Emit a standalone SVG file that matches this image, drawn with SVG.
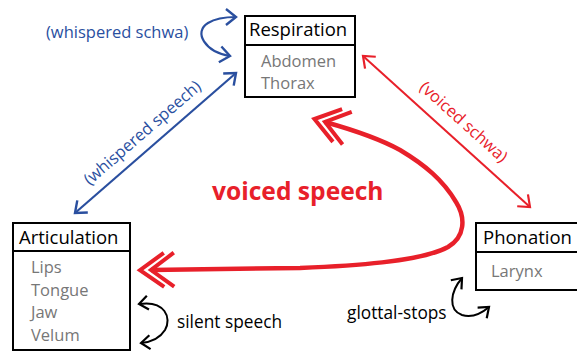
<svg xmlns="http://www.w3.org/2000/svg" width="577" height="352" viewBox="0 0 577 352">
<style>
.box{fill:#fff;stroke:#000;stroke-width:2}
.title{font-family:"Open Sans","Liberation Sans",sans-serif;font-size:18.5px;fill:#000}
.item{font-family:"Open Sans","Liberation Sans",sans-serif;font-size:16.5px;fill:#777}
.lbl{font-family:"Open Sans","Liberation Sans",sans-serif;font-size:17.3px;fill:#000}
.blue{fill:none;stroke:#2a4f9f;stroke-width:2.2}
.bluet{font-family:"Open Sans","Liberation Sans",sans-serif;font-size:16.5px;fill:#2a4f9f}
.red{fill:none;stroke:#e8202a;stroke-width:2}
.redt{font-family:"Open Sans","Liberation Sans",sans-serif;font-size:16.5px;fill:#e8202a}
.redbig{fill:none;stroke:#e8202a;stroke-width:4.5}
.black{fill:none;stroke:#000;stroke-width:2}
</style>
<defs>
<marker id="hb" markerUnits="userSpaceOnUse" orient="auto-start-reverse" markerWidth="20" markerHeight="20" overflow="visible">
<path d="M -10 -8 L 0 0 L -10 8" fill="none" stroke="#2a4f9f" stroke-width="2.4"/>
</marker>
<marker id="hr" markerUnits="userSpaceOnUse" orient="auto-start-reverse" markerWidth="20" markerHeight="20" overflow="visible">
<path d="M -10 -8 L 0 0 L -10 8" fill="none" stroke="#e8202a" stroke-width="2.2"/>
</marker>
<marker id="hk" markerUnits="userSpaceOnUse" orient="auto-start-reverse" markerWidth="20" markerHeight="20" overflow="visible">
<path d="M -9 -7 L 0 0 L -9 7" fill="none" stroke="#000" stroke-width="2.2"/>
</marker>
<marker id="hrr" markerUnits="userSpaceOnUse" orient="auto-start-reverse" markerWidth="40" markerHeight="40" overflow="visible">
<path d="M -13 -17 L 11 0 L -13 17 M -23 -17 L 0 0 L -23 17" fill="none" stroke="#e8202a" stroke-width="4"/>
</marker>
</defs>

<g id="connectors">
<path class="blue" d="M 230 56 C 205 52, 193 32, 208 23 C 216 18, 226 17, 236 17" marker-start="url(#hb)" marker-end="url(#hb)"/>
<path class="blue" d="M 75 213 L 236 73" marker-start="url(#hb)" marker-end="url(#hb)"/>
<path class="red" d="M 363 56 L 530 207" marker-start="url(#hr)" marker-end="url(#hr)"/>
<path class="redbig" d="M 151 270 L 300 268 C 350 266, 420 262, 448 247 C 465 237, 466 218, 456 202 C 443 180, 425 165, 400 150 C 380 139, 350 129, 325 122" marker-start="url(#hrr)" marker-end="url(#hrr)"/>
<path class="black" d="M 139 304 C 165 300, 172 318, 165 330 C 160 338, 152 342, 141 343" marker-start="url(#hk)" marker-end="url(#hk)"/>
<path class="black" d="M 462 278 C 450 292, 448 310, 462 315 C 472 318, 482 313, 489 307" marker-start="url(#hk)" marker-end="url(#hk)"/>
<text class="bluet" x="46" y="38">(whispered schwa)</text>
<text class="bluet" text-anchor="middle" transform="translate(146,137) rotate(-41)">(whispered speech)</text>
<text class="redt" text-anchor="middle" transform="translate(460,126) rotate(42)">(voiced schwa)</text>
<text x="212" y="200" font-family="'Open Sans','Liberation Sans',sans-serif" font-size="24.6" font-weight="bold" fill="#e8202a">voiced speech</text>
<text class="lbl" x="177" y="328">silent speech</text>
<text class="lbl" x="347" y="319">glottal-stops</text>
</g>

<g id="respiration">
<rect class="box" x="245" y="16" width="110" height="81"/>
<line x1="245" y1="45" x2="355" y2="45" stroke="#000" stroke-width="2"/>
<text class="title" x="249" y="36">Respiration</text>
<text class="item" x="261" y="67">Abdomen</text>
<text class="item" x="261" y="89">Thorax</text>
</g>

<g id="articulation">
<rect class="box" x="13" y="223" width="117" height="127"/>
<line x1="13" y1="251" x2="130" y2="251" stroke="#000" stroke-width="2"/>
<text class="title" x="19" y="244">Articulation</text>
<text class="item" x="31" y="273">Lips</text>
<text class="item" x="31" y="296">Tongue</text>
<text class="item" x="31" y="318">Jaw</text>
<text class="item" x="31" y="341">Velum</text>
</g>

<g id="phonation">
<rect class="box" x="476" y="223" width="120" height="67"/>
<line x1="476" y1="252" x2="596" y2="252" stroke="#000" stroke-width="2"/>
<text class="title" x="483" y="244">Phonation</text>
<text class="item" x="491" y="277">Larynx</text>
</g>
</svg>
